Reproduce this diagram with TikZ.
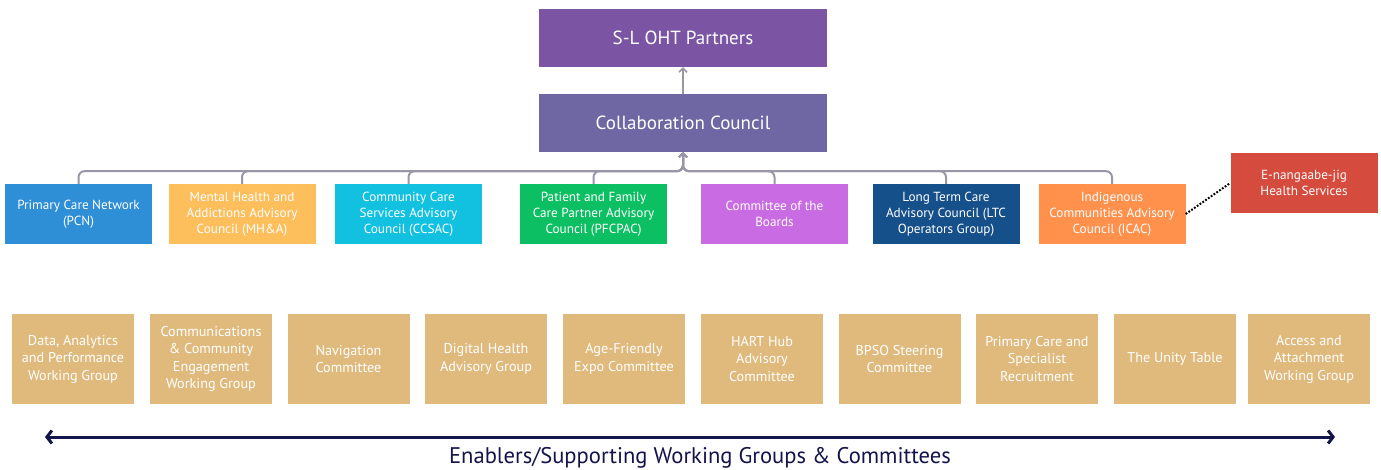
\documentclass[tikz,border=0pt]{standalone}
\usepackage{fontspec}
\setmainfont{PT Sans}
\usetikzlibrary{arrows.meta}
\definecolor{cTop}{HTML}{7B55A3}
\definecolor{cCollab}{HTML}{6F67A3}
\definecolor{cPCN}{HTML}{2E8FD6}
\definecolor{cMHA}{HTML}{FDBE5C}
\definecolor{cCCS}{HTML}{12C0E0}
\definecolor{cPFC}{HTML}{0DBF63}
\definecolor{cCOB}{HTML}{C96BE3}
\definecolor{cLTC}{HTML}{16508A}
\definecolor{cICA}{HTML}{FF914D}
\definecolor{cENG}{HTML}{D54B3E}
\definecolor{cTan}{HTML}{E0BA7C}
\definecolor{cNavy}{HTML}{13144A}
\definecolor{cLine}{HTML}{9A96A6}
\tikzset{
  box/.style={draw=none, inner sep=0pt, align=center, text=white, font=\fontsize{13.2}{16}\selectfont},
  bigbox/.style={box, minimum width=288pt, minimum height=58pt, font=\fontsize{19}{22}\selectfont},
  council/.style={box, minimum width=147pt, minimum height=60pt},
  wg/.style={box, fill=cTan, minimum width=122pt, minimum height=90pt, font=\fontsize{14.2}{17.5}\selectfont},
  conn/.style={draw=cLine, line width=2pt, rounded corners=6pt, -{Straight Barb[length=4pt,width=8pt,line width=1.5pt]}},
}
\begin{document}
\begin{tikzpicture}[x=1pt,y=-1pt]
\useasboundingbox (0,0) rectangle (1381,470);
% top
\node[bigbox, fill=cTop] (top) at (683,38) {S-L OHT Partners};
\node[bigbox, fill=cCollab] (collab) at (683,123) {Collaboration Council};
% councils
\node[council, fill=cPCN] (pcn) at (78.5,214) {Primary Care Network\\(PCN)};
\node[council, fill=cMHA] (mha) at (242,214) {Mental Health and\\Addictions Advisory\\Council (MH\&A)};
\node[council, fill=cCCS] (ccs) at (408.5,214) {Community Care\\Services Advisory\\Council (CCSAC)};
\node[council, fill=cPFC] (pfc) at (593.5,214) {Patient and Family\\Care Partner Advisory\\Council (PFCPAC)};
\node[council, fill=cCOB] (cob) at (774.5,214) {Committee of the\\Boards};
\node[council, fill=cLTC] (ltc) at (946,214) {Long Term Care\\Advisory Council (LTC\\Operators Group)};
\node[council, fill=cICA] (ica) at (1112,214) {Indigenous\\Communities Advisory\\Council (ICAC)};
\node[council, fill=cENG] (eng) at (1304,183) {E-nangaabe-jig\\Health Services};
% connectors
\draw[conn] (collab.north) -- (top.south);
\foreach \n in {pcn,mha,ccs,pfc,cob,ltc,ica}{
  \draw[conn] (\n.north) |- ([yshift=-19pt]collab.south) -- (collab.south);
}
\draw[black, line width=2pt, dash pattern=on 1.8pt off 1.6pt] (ica.east) -- (eng.west);
% working groups
\node[wg] (w1) at (73,359) {Data, Analytics\\and Performance\\Working Group};
\node[wg] (w2) at (211,359) {Communications\\\& Community\\Engagement\\Working Group};
\node[wg] (w3) at (348.5,359) {Navigation\\Committee};
\node[wg] (w4) at (486,359) {Digital Health\\Advisory Group};
\node[wg] (w5) at (624,359) {Age-Friendly\\Expo Committee};
\node[wg] (w6) at (762,359) {HART Hub\\Advisory\\Committee};
\node[wg] (w7) at (899.5,359) {BPSO Steering\\Committee};
\node[wg] (w8) at (1037,359) {Primary Care and\\Specialist\\Recruitment};
\node[wg] (w9) at (1175,359) {The Unity Table};
\node[wg] (w10) at (1309,359) {Access and\\Attachment\\Working Group};
% span arrow
\coordinate (al) at (45,437);
\coordinate (ar) at (1335,437);
\draw[cNavy, line width=3pt, {Straight Barb[length=5pt,width=13pt]}-{Straight Barb[length=5pt,width=13pt]}] (al) -- (ar);
\node[text=cNavy, font=\fontsize{22.6}{25}\selectfont, inner sep=0pt] (lbl) at (700,458) {Enablers/Supporting Working Groups \& Committees};
\end{tikzpicture}
\end{document}
